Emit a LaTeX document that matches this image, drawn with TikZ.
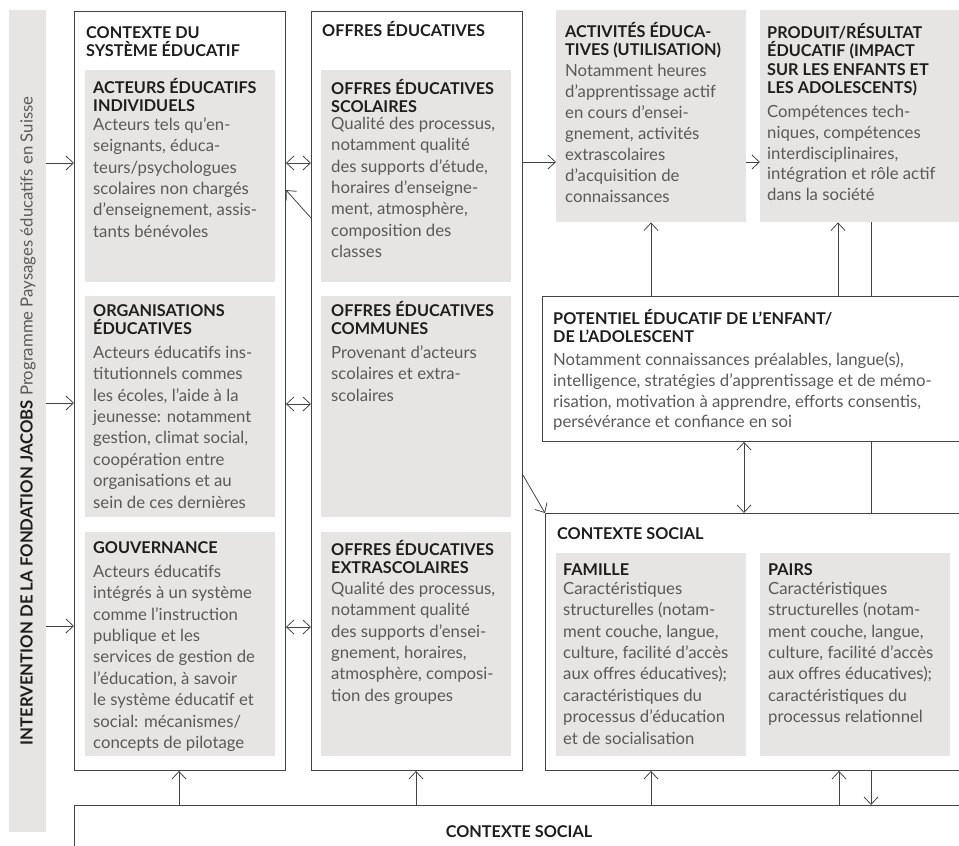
\documentclass[tikz,border=0pt]{standalone}
\usepackage{fontspec}
\setmainfont{Lato}
\usetikzlibrary{arrows.meta}
\definecolor{boxgray}{HTML}{E6E5E3}
\definecolor{txtgray}{HTML}{5A5A5A}
\definecolor{hdark}{HTML}{1E1E1E}
\definecolor{linec}{HTML}{444444}
\newcommand\fl{\rule{0pt}{20bp}}
\begin{document}
\begin{tikzpicture}[x=1bp,y=-1bp,
  gbox/.style={fill=boxgray, draw=none, inner sep=0, anchor=north west},
  wbox/.style={fill=white, draw=linec, line width=0.9bp, inner sep=0, anchor=north west},
  txt/.style={anchor=north west, yshift=20bp, inner sep=0, align=left},
  head/.style={txt, text=hdark, font=\bfseries\fontsize{16.3}{18.5}\selectfont},
  body/.style={txt, text=txtgray, font=\fontsize{16.8}{21.5}\selectfont},
  tip/.tip={Straight Barb[length=7.5bp,width=14bp]},
  arr/.style={draw=linec, line width=0.8bp, -tip},
  darr/.style={draw=linec, line width=0.8bp, tip-tip},
]
\useasboundingbox (0,0) rectangle (959,846);
\clip (0,0) rectangle (959,846);

% left bar
\node[gbox, minimum width=37bp, minimum height=822bp] (bar) at (9,10) {};
\node[rotate=90, inner sep=0, text=hdark, font=\fontsize{16.8}{18}\selectfont] (barT) at (28,421)
  {{\bfseries INTERVENTION DE LA FONDATION JACOBS} {\color{txtgray}Programme Paysages éducatifs en Suisse}};

% column boxes
\node[wbox, minimum width=211bp, minimum height=759bp] (box1) at (74,11) {};
\node[wbox, minimum width=211bp, minimum height=759bp] (box2) at (311,11) {};

\node[gbox, minimum width=190bp, minimum height=212bp] (g1a) at (85,70) {};
\node[gbox, minimum width=190bp, minimum height=221bp] (g1b) at (85,296) {};
\node[gbox, minimum width=190bp, minimum height=224bp] (g1c) at (85,532) {};
\node[gbox, minimum width=190bp, minimum height=212bp] (g2a) at (321,70) {};
\node[gbox, minimum width=190bp, minimum height=221bp] (g2b) at (321,296) {};
\node[gbox, minimum width=190bp, minimum height=224bp] (g2c) at (321,532) {};

\node[gbox, minimum width=190bp, minimum height=212bp] (act) at (556,10) {};
\node[gbox, minimum width=200bp, minimum height=212bp] (prod) at (760,10) {};

% feedback line hidden behind white boxes
\coordinate (fx) at (871,0);
\coordinate (fy) at (0,805);
\draw[arr] (prod.south -| fx) -- (fx |- fy);

\node[wbox, minimum width=448bp, minimum height=145bp] (pot) at (542,296) {};
\node[wbox, minimum width=445bp, minimum height=257bp] (cs) at (545,513) {};
\node[gbox, minimum width=190bp, minimum height=203bp] (fam) at (556,553) {};
\node[gbox, minimum width=190bp, minimum height=203bp] (pairs) at (760,553) {};
\node[wbox, minimum width=916bp, minimum height=80bp] (bot) at (74,805) {};

% arrows
\foreach \yy in {163,403,626}{
  \draw[arr] (bar.east |- 0,\yy) -- (box1.west |- 0,\yy);
}
\foreach \yy in {163,404,627}{
  \draw[darr] (box1.east |- 0,\yy) -- (box2.west |- 0,\yy);
}
\draw[arr] (box2.west |- 0,218) -- (box1.east |- 0,190);
\draw[arr] (box2.east |- 0,162) -- (act.west |- 0,162);
\draw[arr] (act.east |- 0,162) -- (prod.west |- 0,162);
\draw[arr] (pot.north -| 651,0) -- (act.south -| 651,0);
\draw[arr] (pot.north -| 838,0) -- (prod.south -| 838,0);
\draw[darr] (pot.south -| 744,0) -- (cs.north -| 744,0);
\draw[arr] (box2.east |- 0,475) -- (cs.north west);
\draw[arr] (bot.north -| 179,0) -- (box1.south -| 179,0);
\draw[arr] (bot.north -| 416,0) -- (box2.south -| 416,0);
\draw[arr] (bot.north -| 651,0) -- (cs.south -| 651,0);
\draw[arr] (bot.north -| 839,0) -- (cs.south -| 839,0);

% texts
\node[head, font=\bfseries\fontsize{16.3}{18}\selectfont] (t1) at (86,38) {\fl CONTEXTE DU\\SYSTÈME ÉDUCATIF};
\node[head] (t2) at (322,36) {\fl OFFRES ÉDUCATIVES};

\node[head] (g1ah) at (93,93) {\fl ACTEURS ÉDUCATIFS\\INDIVIDUELS};
\node[body] (g1ab) at (93,130) {\fl Acteurs tels qu’en-\\seignants, éduca-\\teurs/psychologues\\scolaires non chargés\\d’enseignement, assis-\\tants bénévoles};

\node[head] (g1bh) at (93,316) {\fl ORGANISATIONS\\ÉDUCATIVES};
\node[body] (g1bb) at (93,358) {\fl Acteurs éducatifs ins-\\titutionnels commes\\les écoles, l’aide à la\\jeunesse: notamment\\gestion, climat social,\\coopération entre\\organisations et au\\sein de ces dernières};

\node[head] (g1ch) at (93,553) {\fl GOUVERNANCE};
\node[body] (g1cb) at (93,577) {\fl Acteurs éducatifs\\intégrés à un système\\comme l’instruction\\publique et les\\services de gestion de\\l’éducation, à savoir\\le système éducatif et\\social: mécanismes/\\concepts de pilotage};

\node[head] (g2ah) at (331,94) {\fl OFFRES ÉDUCATIVES\\SCOLAIRES};
\node[body] (g2ab) at (331,129) {\fl Qualité des processus,\\notamment qualité\\des supports d’étude,\\horaires d’enseigne-\\ment, atmosphère,\\composition des\\classes};

\node[head] (g2bh) at (331,316) {\fl OFFRES ÉDUCATIVES\\COMMUNES};
\node[body] (g2bb) at (331,358) {\fl Provenant d’acteurs\\scolaires et extra-\\scolaires};

\node[head] (g2ch) at (331,555) {\fl OFFRES ÉDUCATIVES\\EXTRASCOLAIRES};
\node[body] (g2cb) at (331,594) {\fl Qualité des processus,\\notamment qualité\\des supports d’ensei-\\gnement, horaires,\\atmosphère, composi-\\tion des groupes};

\node[head] (acth) at (565,37) {\fl ACTIVITÉS ÉDUCA-\\TIVES (UTILISATION)};
\node[body, font=\fontsize{16.8}{21.1}\selectfont] (actb) at (565,76) {\fl Notamment heures\\d’apprentissage actif\\en cours d’ensei-\\gnement, activités\\extrascolaires\\d’acquisition de\\connaissances};

\node[head] (prodh) at (767,38) {\fl PRODUIT/RÉSULTAT\\ÉDUCATIF (IMPACT\\SUR LES ENFANTS ET\\LES ADOLESCENTS)};
\node[body, font=\fontsize{16.8}{21}\selectfont] (prodb) at (767,117) {\fl Compétences tech-\\niques, compétences\\interdisciplinaires,\\intégration et rôle actif\\dans la société};

\node[head] (poth) at (553,324) {\fl POTENTIEL ÉDUCATIF DE L’ENFANT/\\DE L’ADOLESCENT};
\node[body, font=\fontsize{16.8}{21}\selectfont] (potb) at (553,365) {\fl Notamment connaissances préalables, langue(s),\\intelligence, stratégies d’apprentissage et de mémo-\\risation, motivation à apprendre, efforts consentis,\\persévérance et confiance en soi};

\node[head] (csh) at (557,539) {\fl CONTEXTE SOCIAL};
\node[head] (famh) at (563,575) {\fl FAMILLE};
\node[body] (famb) at (563,594) {\fl Caractéristiques\\structurelles (notam-\\ment couche, langue,\\culture, facilité d’accès\\aux offres éducatives);\\caractéristiques du\\processus d’éducation\\et de socialisation};
\node[head] (pairsh) at (768,575) {\fl PAIRS};
\node[body] (pairsb) at (768,594) {\fl Caractéristiques\\structurelles (notam-\\ment couche, langue,\\culture, facilité d’accès\\aux offres éducatives);\\caractéristiques du\\processus relationnel};

\node[inner sep=0, anchor=base, text=hdark, font=\bfseries\fontsize{16.3}{18.5}\selectfont] (both) at (519,837) {CONTEXTE SOCIAL};
\end{tikzpicture}
\end{document}
